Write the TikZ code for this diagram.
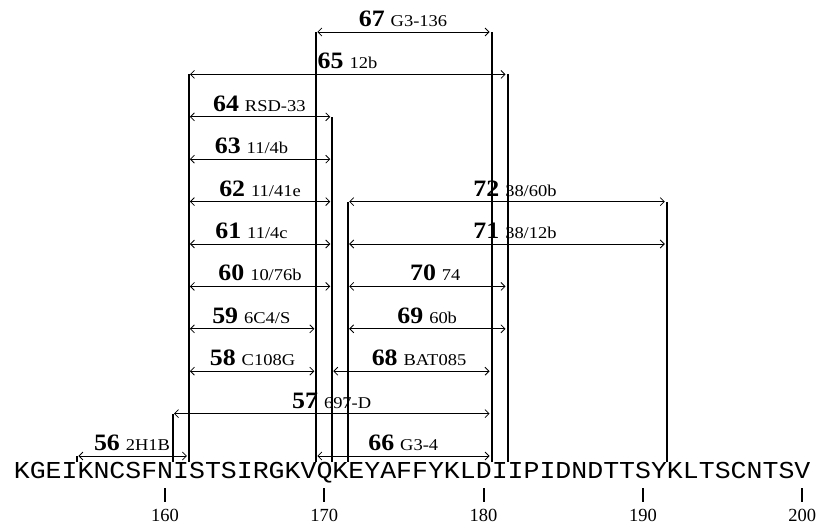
\documentclass[tikz,border=0pt]{standalone}
\usepackage{graphicx}
\usepackage{fontspec}
\setmainfont{Liberation Serif}
\newfontfamily\seqfont{Liberation Mono}
\usetikzlibrary{arrows.meta}
\newcommand\numf{\bfseries\fontsize{23.5}{23.5}\selectfont}
\newcommand\namef{\mdseries\fontsize{16.5}{16.5}\selectfont}
\newcommand\abrow[6]{%
  \coordinate (s#1) at ({165+(#3-160)*15.93},{-(456-42.4*#5)});
  \coordinate (e#1) at ({165+(#4-160)*15.93},{-(456-42.4*#5)});
  \draw[arr] (s#1) -- (e#1);
  \node[lab] (l#1) at (#6,{-(450.5-42.4*#5)}) {\scalebox{1.1}[1]{\numf #1}\hspace{6pt}\scalebox{1.12}[1]{\namef #2}};
}
\newcommand\vln[3]{%
  \coordinate (vb#1) at ({165+(#2-160)*15.93},-462);
  \coordinate (vt#1) at ({165+(#2-160)*15.93},{-(456-42.4*#3)});
  \draw[vline] (vb#1) -- (vt#1);
}
\begin{document}
\begin{tikzpicture}[x=1pt,y=1pt,
  arr/.style={line width=0.8pt, arrows={Straight Barb[length=4pt,width=8pt]-Straight Barb[length=4pt,width=8pt]}, shorten <=1pt, shorten >=2pt},
  vline/.style={line width=2pt},
  lab/.style={anchor=base, inner sep=0pt},
  ticklab/.style={anchor=base, inner sep=0pt, font=\fontsize{18.5}{18.5}\selectfont}]
\useasboundingbox (0,0) rectangle (819,-526);
% sequence
\node[anchor=base west, inner sep=0pt] (seq) at (13.67,-478) {\scalebox{1}[0.915]{\seqfont\fontsize{26.55}{26.55}\selectfont KGEIKNCSFNISTSIRGKVQKEYAFFYKLDIIPIDNDTTSYKLTSCNTSV}};
% ticks
\foreach \t in {160,170,180,190,200} {
  \coordinate (tt\t) at ({165+(\t-160)*15.93},-488);
  \coordinate (tb\t) at ({165+(\t-160)*15.93},-502);
  \draw[vline] (tt\t) -- (tb\t);
  \node[ticklab] (tl\t) at ({165+(\t-160)*15.93},-521.7) {\t};
}
% vertical lines
\vln{a}{154.5}{0}
\vln{b}{160.5}{1}
\vln{c}{161.5}{9}
\vln{d}{169.5}{10}
\vln{e}{170.5}{8}
\vln{f}{171.5}{6}
\vln{g}{180.5}{10}
\vln{h}{181.5}{9}
\vln{i}{191.5}{6}
% arrows with labels
\abrow{56}{2H1B}{154.5}{161.5}{0}{132}
\abrow{66}{G3-4}{169.5}{180.5}{0}{403.3}
\abrow{57}{697-D}{160.5}{180.5}{1}{331.7}
\abrow{58}{C108G}{161.5}{169.5}{2}{252.5}
\abrow{68}{BAT085}{170.5}{180.5}{2}{419}
\abrow{59}{6C4/S}{161.5}{169.5}{3}{251.3}
\abrow{69}{60b}{171.5}{181.5}{3}{427.2}
\abrow{60}{10/76b}{161.5}{170.5}{4}{260}
\abrow{70}{74}{171.5}{181.5}{4}{435.3}
\abrow{61}{11/4c}{161.5}{170.5}{5}{251.5}
\abrow{71}{38/12b}{171.5}{191.5}{5}{515}
\abrow{62}{11/41e}{161.5}{170.5}{6}{260}
\abrow{72}{38/60b}{171.5}{191.5}{6}{515}
\abrow{63}{11/4b}{161.5}{170.5}{7}{251.5}
\abrow{64}{RSD-33}{161.5}{170.5}{8}{259.3}
\abrow{65}{12b}{161.5}{181.5}{9}{347.5}
\abrow{67}{G3-136}{169.5}{180.5}{10}{403}
\end{tikzpicture}
\end{document}
